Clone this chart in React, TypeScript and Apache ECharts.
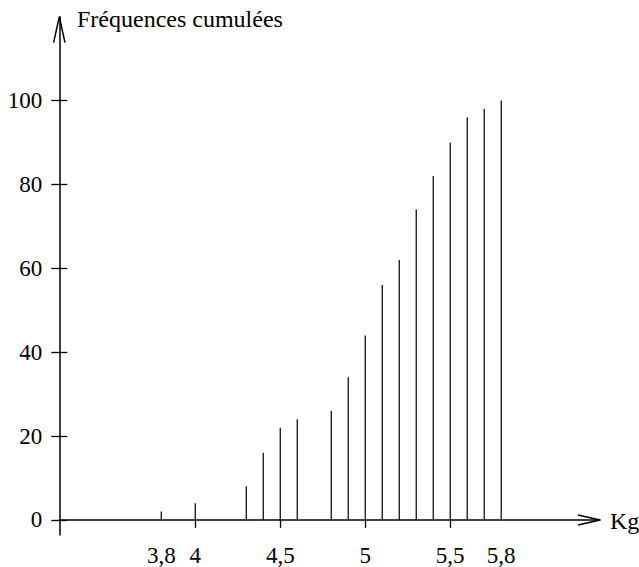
import React, { useEffect, useRef } from "react";
import * as echarts from "echarts";

const masses = [3.8, 4, 4.3, 4.4, 4.5, 4.6, 4.8, 4.9, 5, 5.1, 5.2, 5.3, 5.4, 5.5, 5.6, 5.7, 5.8];
const cumulFreq = [2, 4, 8, 16, 22, 24, 26, 34, 44, 56, 62, 74, 82, 90, 96, 98, 100];
const xLabelValues = [3.8, 4, 4.5, 5, 5.5, 5.8];
const xTickValues = [4, 4.5, 5, 5.5];
const yTickValues = [0, 20, 40, 60, 80, 100];
const yTitle = "Fréquences cumulées";
const xTitle = "Kg";

const FONT = "Liberation Serif, Times New Roman, serif";
const XMIN = 3.2;
const XMAX = 6.381;
const YMIN = -3.6;
const YMAX = 120;

export default function App() {
  const ref = useRef<HTMLDivElement>(null);
  useEffect(() => {
    if (!ref.current) return;
    const chart = echarts.init(ref.current, null, { renderer: "svg" });
    const fmt = (v: number) => String(v).replace(".", ",");
    chart.setOption({
      animation: false,
      backgroundColor: "#fff",
      grid: { left: 59.3, right: 39, top: 16.7, bottom: 25, containLabel: false },
      xAxis: {
        type: "value",
        min: XMIN,
        max: XMAX,
        axisLine: { show: true, onZero: true, lineStyle: { color: "#000", width: 1.5 } },
        axisTick: { show: true, customValues: xTickValues, length: 8, lineStyle: { color: "#000", width: 1.3 } },
        axisLabel: {
          show: true,
          customValues: xLabelValues,
          formatter: (v: number) => fmt(v),
          color: "#000",
          fontFamily: FONT,
          fontSize: 23,
          margin: 9,
        },
        splitLine: { show: false },
      },
      yAxis: [
        {
          type: "value",
          min: YMIN,
          max: YMAX,
          axisLine: { show: true, onZero: false, lineStyle: { color: "#000", width: 1.5 } },
          axisTick: { show: true, customValues: yTickValues, length: 8, lineStyle: { color: "#000", width: 1.3 } },
          axisLabel: {
            show: true,
            customValues: yTickValues,
            color: "#000",
            fontFamily: FONT,
            fontSize: 23,
            margin: 17,
          },
          splitLine: { show: false },
        },
        {
          type: "value",
          position: "left",
          min: YMIN,
          max: YMAX,
          axisLine: { show: false },
          axisTick: { show: true, inside: true, customValues: yTickValues, length: 8, lineStyle: { color: "#000", width: 1.3 } },
          axisLabel: { show: false },
          splitLine: { show: false },
        },
      ],
      series: [
        {
          type: "bar",
          barWidth: 1.3,
          itemStyle: { color: "#111" },
          data: masses.map((m, i) => [m, cumulFreq[i]]),
        },
      ],
    });
    const tipX = chart.convertToPixel({ gridIndex: 0 }, [XMAX, 0]) as number[];
    const tipY = chart.convertToPixel({ gridIndex: 0 }, [XMIN, YMAX]) as number[];
    const lineStyle = { stroke: "#000", lineWidth: 1.5, fill: null };
    chart.setOption({
      graphic: [
        {
          type: "polyline",
          shape: { points: [[tipX[0] - 22, tipX[1] - 5], [tipX[0], tipX[1]], [tipX[0] - 22, tipX[1] + 5]] },
          style: lineStyle,
        },
        {
          type: "polyline",
          shape: { points: [[tipY[0] - 5.7, tipY[1] + 26], [tipY[0], tipY[1]], [tipY[0] + 5.7, tipY[1] + 26]] },
          style: lineStyle,
        },
        {
          type: "text",
          x: 77,
          y: 19,
          style: { text: yTitle, fill: "#000", font: `24px ${FONT}`, verticalAlign: "middle", align: "left" },
        },
        {
          type: "text",
          x: tipX[0] + 10,
          y: tipX[1] + 1,
          style: { text: xTitle, fill: "#000", font: `24px ${FONT}`, verticalAlign: "middle", align: "left" },
        },
      ],
    });
    return () => chart.dispose();
  }, []);
  return (
    <div
      ref={ref}
      style={{ position: "fixed", left: 0, top: 0, width: 639, height: 567, background: "#fff" }}
    />
  );
}
